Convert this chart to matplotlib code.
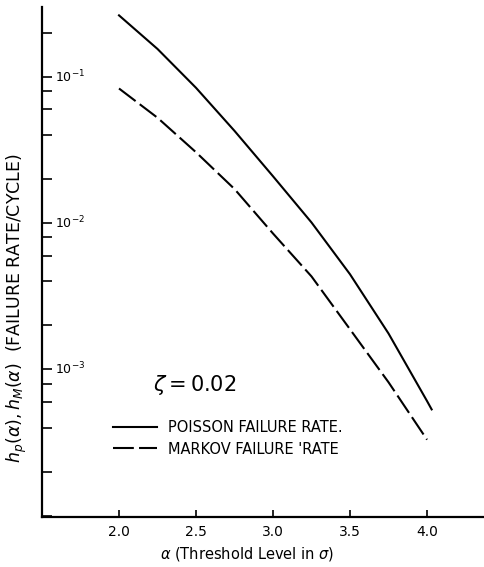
import matplotlib
matplotlib.use("Agg")
import matplotlib.pyplot as plt
import matplotlib.transforms as mtransforms
from matplotlib.ticker import LogLocator, NullFormatter

# Data
alpha = [2.0, 2.25, 2.5, 2.75, 3.0, 3.25, 3.5, 3.75, 4.0, 4.03]
poisson = [0.263, 0.155, 0.0841, 0.0427, 0.0209, 0.0101, 0.00447, 0.00176, 0.000608, 0.000533]
alpha_m = [2.0, 2.25, 2.5, 2.75, 3.0, 3.25, 3.5, 3.75, 4.0]
markov = [0.0832, 0.0525, 0.0305, 0.0171, 0.00849, 0.00432, 0.00188, 0.000817, 0.000331]

xticks = [2.0, 2.5, 3.0, 3.5, 4.0]
xticklabels = ["2.0", "2.5", "3.0", "3.5", "4.0"]
ymajor = [1e-1, 1e-2, 1e-3]
ymajor_labels = [r"$10^{-1}$", r"$10^{-2}$", r"$10^{-3}$"]

W, H = 484, 567
fig = plt.figure(figsize=(W / 100, H / 100), dpi=100)
ax = fig.add_axes([42 / W, 1 - 517 / H, 1 - 42 / W, (517 - 7) / H])

ax.plot(alpha, poisson, color="black", lw=1.5, label="POISSON FAILURE RATE.")
ax.plot(alpha_m, markov, color="black", lw=1.5, dashes=(10, 2.5),
        label="MARKOV FAILURE 'RATE")

ax.set_yscale("log")
ax.set_xlim(1.5, 4.37)
ax.set_ylim(9.8e-5, 0.30)

for s in ["top", "right"]:
    ax.spines[s].set_visible(False)
for s in ["left", "bottom"]:
    ax.spines[s].set_linewidth(1.6)

ax.set_xticks(xticks)
ax.set_xticklabels(xticklabels, fontsize=10)
ax.tick_params(axis="x", direction="in", length=5, width=1.2, pad=6)

ax.yaxis.set_major_locator(LogLocator(base=10, numticks=10))
ax.yaxis.set_minor_locator(LogLocator(base=10, subs=[2, 4, 6, 8], numticks=20))
ax.yaxis.set_major_formatter(NullFormatter())
ax.yaxis.set_minor_formatter(NullFormatter())
ax.tick_params(axis="y", which="both", direction="in", length=7, width=1.2)

trans = mtransforms.blended_transform_factory(ax.transAxes, ax.transData)
for v, lab in zip(ymajor, ymajor_labels):
    ax.text(0.03, v, lab, transform=trans, fontsize=9, va="center", ha="left")

ax.set_xlabel(r"$\alpha$ (Threshold Level in $\sigma$)", fontsize=10.5)
ax.xaxis.set_label_coords((247 - 42) / (W - 42), -0.055)
fig.text(17 / W, 1 - 308 / H, r"$h_p(\alpha), h_M(\alpha)$  (FAILURE RATE/CYCLE)",
         rotation=90, fontsize=12.5, va="center", ha="center")

ax.text(153 / W, 1 - 385 / H, r"$\zeta = 0.02$", transform=fig.transFigure,
        fontsize=15, va="center", ha="left")

ax.legend(loc="upper left", bbox_to_anchor=(113 / W, 1 - 420 / H),
          bbox_transform=fig.transFigure, frameon=False, fontsize=10.5,
          handlelength=3.0, handletextpad=0.8, labelspacing=0.45,
          borderpad=0, borderaxespad=0)

fig.savefig("out.png", dpi=100)
